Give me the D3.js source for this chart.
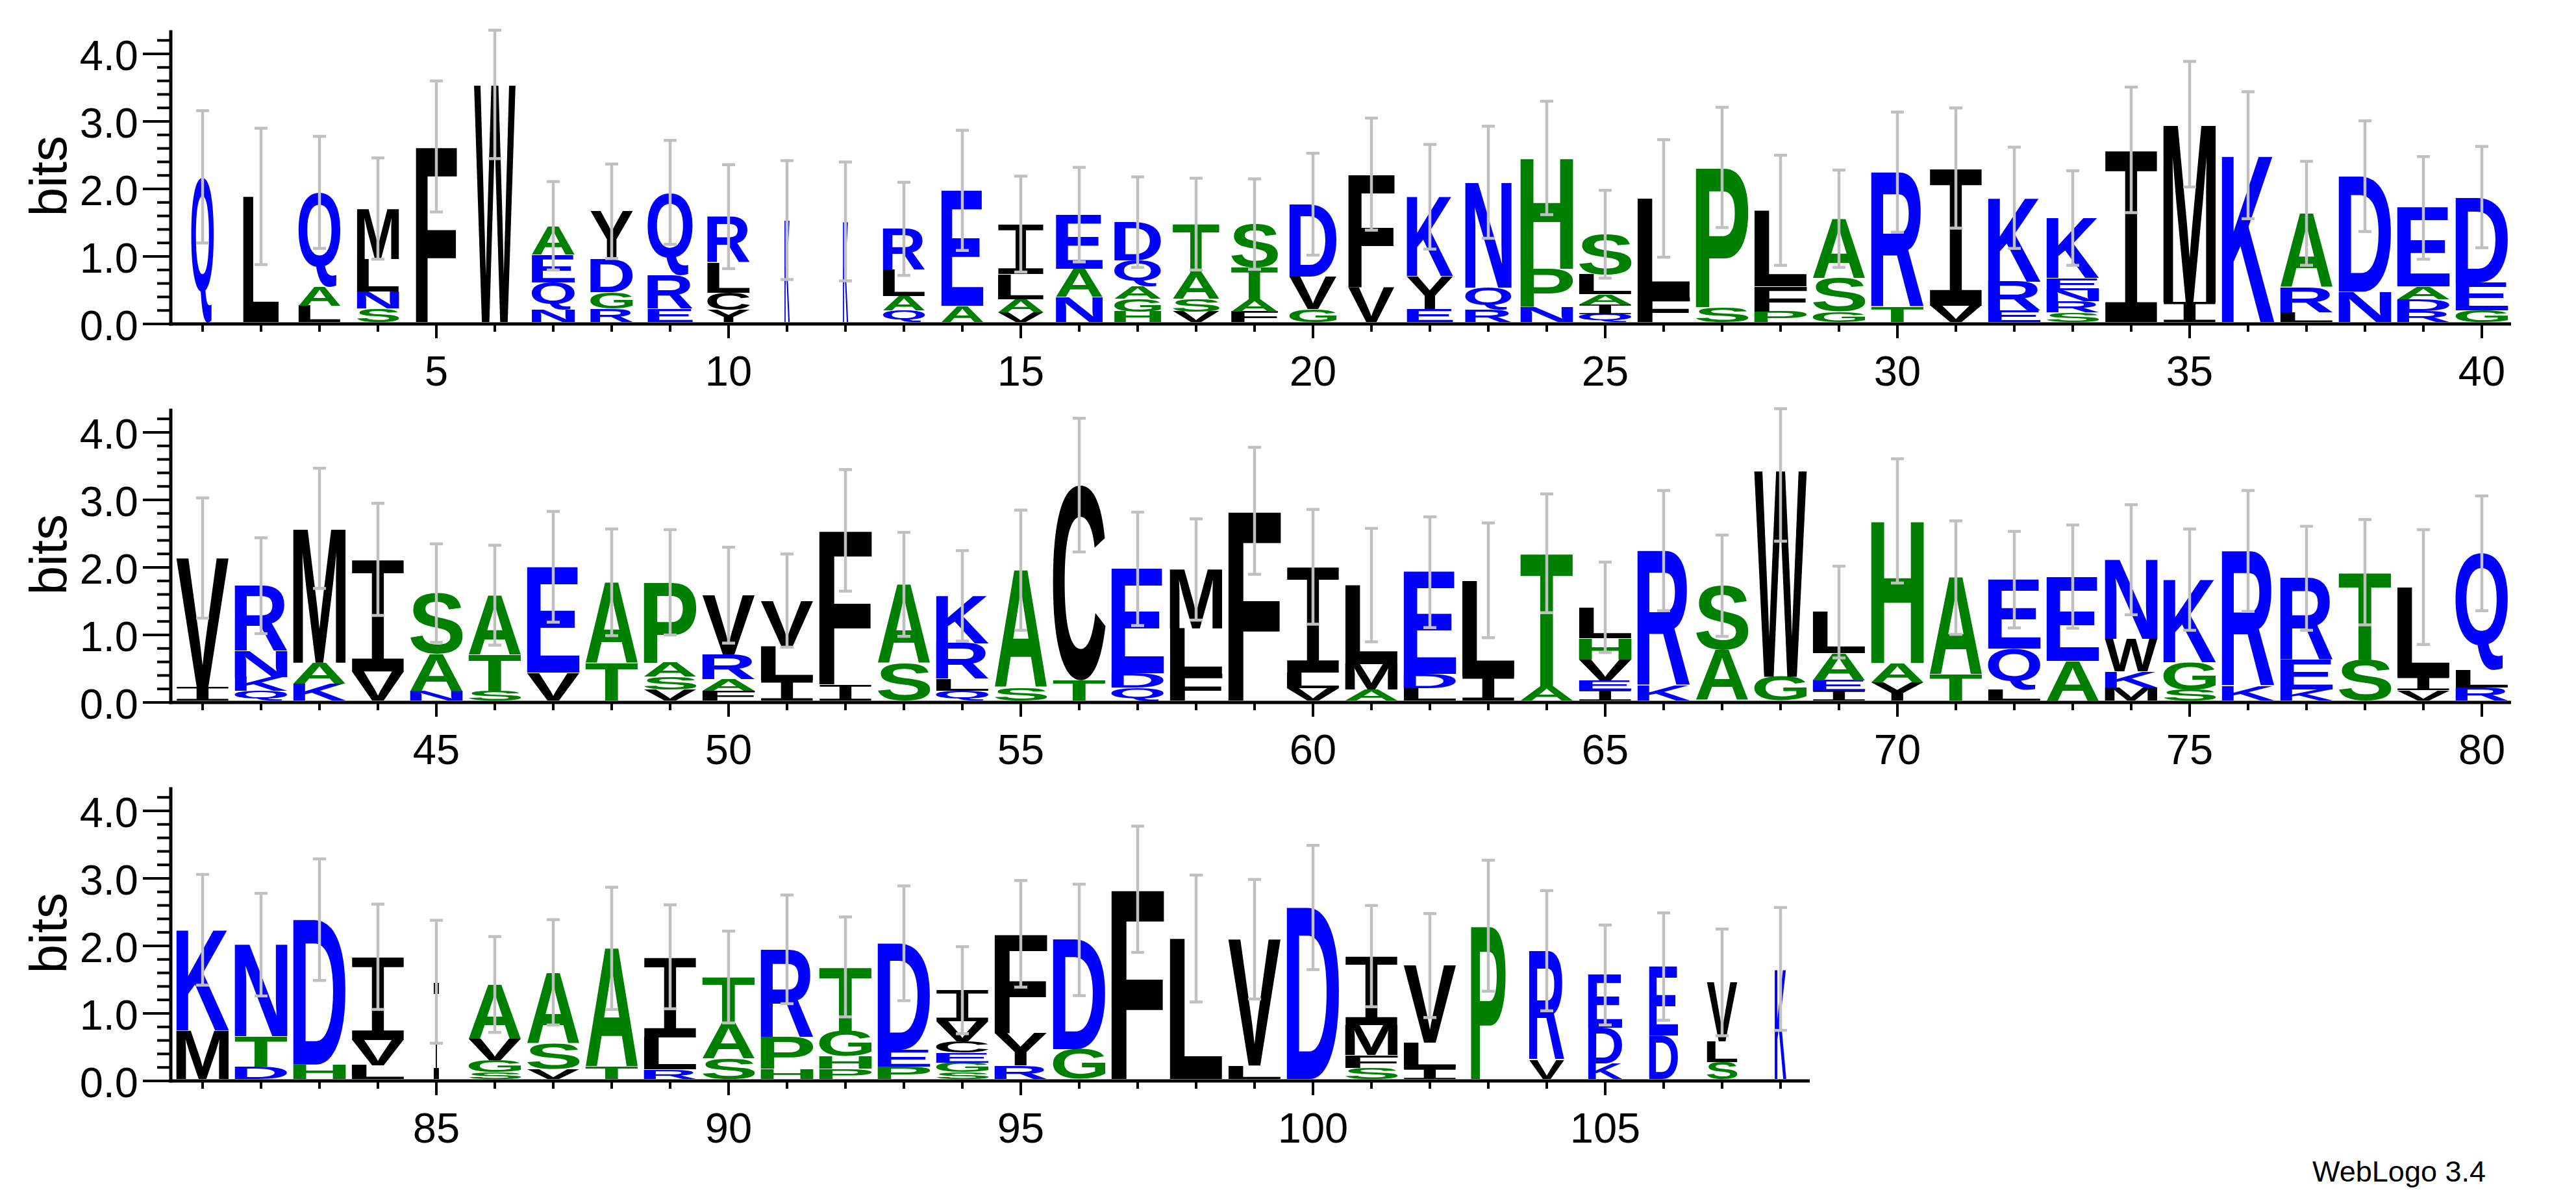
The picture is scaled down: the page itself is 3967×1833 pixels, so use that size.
<!DOCTYPE html>
<html><head><meta charset="utf-8">
<script src="https://cdn.jsdelivr.net/npm/d3@7"></script>
<style>html,body{margin:0;padding:0;background:#fff;}svg{display:block}</style>
</head><body>
<svg id="chart" width="3967" height="1833"></svg>
<script>
// ---- DATA ----
const stackLetters = ["Q","L","LAQ","SNLM","F","W","NQEA","RGDY","ERQ","YCLR",
"K","K","QALR","AE","VALI","NAE","HGAQD","VSAT","FATS","GVD",
"VF","EYK","RQN","NPH","QIALS","FL","SP","PFL","GSA","TR",
"VI","ERK","SRNEK","I","IM","K","LRA","ND","RDAE","GED",
"IV","QKNR","KAM","VI","NAS","STA","VE","TA","VSAP","FARV",
"ILV","IF","SA","QLRK","SA","TC","QDE","FLM","F","VLI",
"AML","LDE","IL","AT","IEVHL","KR","AS","GW","IEAL","YAH",
"TA","LQE","AE","MKWN","SGK","KR","KER","ST","VIL","RLQ",
"MK","DTN","HD","LVI","I","SGVA","VSA","TA","RLI","SAT",
"HPR","PHGT","PED","SGECVI","RYF","GD","F","L","LV","D",
"SFMI","ILV","P","VR","KDE","DE","SLV","K"];
const stackHeights = [
[2.15],[1.86],[0.24,0.28,1.40],[0.20,0.25,0.48,0.75],[2.60],[3.51],[0.19,0.40,0.41,0.425],[0.20,0.24,0.49,0.71],[0.20,0.50,1.22],[0.18,0.25,0.445,0.685],
[1.51],[1.49],[0.17,0.21,0.39,0.61],[0.24,1.71],[0.145,0.195,0.37,0.74],[0.37,0.42,0.80],[0.155,0.185,0.19,0.38,0.57],[0.155,0.185,0.38,0.73],[0.155,0.185,0.47,0.64],[0.19,0.48,1.075],
[0.515,1.675],[0.195,0.485,1.175],[0.19,0.32,1.56],[0.22,0.57,1.64],[0.12,0.14,0.15,0.29,0.60],[0.37,1.46],[0.22,2.07],[0.155,0.375,1.125],[0.155,0.495,0.88],[0.22,2.00],
[0.24,2.04],[0.17,0.43,1.24],[0.14,0.165,0.17,0.175,0.89],[2.55],[0.29,2.64],[2.47],[0.145,0.37,1.095],[0.45,1.71],[0.165,0.175,0.185,1.165],[0.17,0.42,1.26],
[0.195,1.915],[0.145,0.205,0.385,0.965],[0.25,0.31,1.99],[0.43,1.66],[0.145,0.545,0.90],[0.145,0.535,0.88],[0.41,1.57],[0.56,1.19],[0.16,0.19,0.21,1.19],[0.145,0.17,0.365,0.88],
[0.30,0.51,0.67],[0.24,2.28],[0.55,1.17],[0.145,0.175,0.53,0.70],[0.195,1.735],[0.30,2.89],[0.195,0.205,1.55],[0.39,0.675,0.875],[2.81],[0.18,0.23,1.57],
[0.16,0.38,1.17],[0.18,0.21,1.51],[0.37,1.41],[0.205,1.975],[0.15,0.15,0.31,0.31,0.46],[0.22,2.00],[0.745,0.955],[0.35,3.05],[0.145,0.155,0.40,0.61],[0.265,0.29,2.105],
[0.38,1.44],[0.16,0.61,1.02],[0.585,1.25],[0.195,0.24,0.475,1.175],[0.16,0.405,1.225],[0.215,2.00],[0.16,0.44,1.21],[0.61,1.29],[0.15,0.20,1.33],[0.195,0.255,1.73],
[0.72,1.49],[0.18,0.45,1.36],[0.215,2.145],[0.205,0.375,1.23],[1.44],[0.10,0.175,0.32,0.805],[0.15,0.385,1.045],[0.18,1.755],[0.14,0.48,1.19],[0.30,0.535,0.675],
[0.15,0.47,1.30],[0.15,0.19,0.375,0.945],[0.18,0.25,1.58],[0.10,0.145,0.15,0.16,0.30,0.46],[0.20,0.48,1.47],[0.44,1.62],[2.81],[2.08],[0.20,1.87],[2.54],
[0.165,0.19,0.445,1.02],[0.15,0.385,1.145],[2.27],[0.285,1.615],[0.23,0.525,0.785],[0.645,1.02],[0.25,0.31,0.87],[1.63]];
const errorHalf = [0.98,1.01,0.83,0.75,0.97,1.09,0.655,0.70,0.77,0.77,
0.88,0.88,0.69,0.89,0.71,0.70,0.67,0.68,0.67,0.755,
0.83,0.775,0.83,0.84,0.65,0.87,0.89,0.815,0.72,0.89,
0.89,0.75,0.70,0.93,0.93,0.94,0.77,0.82,0.76,0.75,
0.89,0.71,0.89,0.83,0.73,0.74,0.82,0.79,0.78,0.71,
0.69,0.90,0.77,0.67,0.89,0.99,0.84,0.75,0.94,0.85,
0.84,0.82,0.85,0.88,0.67,0.89,0.75,1.04,0.68,0.92,
0.84,0.715,0.765,0.815,0.75,0.895,0.77,0.78,0.85,0.85,
0.82,0.76,0.90,0.78,0.91,0.71,0.78,0.905,0.77,0.68,
0.805,0.74,0.85,0.645,0.79,0.825,0.935,0.94,0.885,0.92,
0.75,0.77,0.97,0.89,0.74,0.795,0.79,0.91];
const stackWidth = [0.43,0.68,0.80,0.80,0.78,0.79,0.82,0.81,0.86,0.81,
0.10,0.10,0.80,0.80,0.87,0.89,0.89,0.89,0.89,0.90,
0.88,0.88,0.88,1,1,1,1,1,1,1,
1,1,1,1,1,1,1,1,1,1,
1,1,1,1,1,1,1,1,1,1, 1,1,1,1,1,1,1,1,1,1, 1,1,1,1,1,1,1,1,1,1, 1,1,1,1,1,1,1,1,1,1,
1,1,1,1,0.10,1,1,1,1,1, 1,1,1,1,1,1,1,1,1,1,
1,1,0.66,0.67,0.65,0.55,0.58,0.22];
const rowFirst = [1, 41, 81];
const rowLast = [40, 80, 108];
const yTickValues = [0, 1, 2, 3, 4];
const yTickLabels = ["0.0", "1.0", "2.0", "3.0", "4.0"];
const yMinorTicks = d3.range(0, 4.21, 0.2);
const xTickLabelEvery = 5;
const letterColors = {blue: "RKDENQ", green: "SGHTAP", black: "YVMCLFIW"};
const colorHex = {blue: "#0000ff", green: "#008000", black: "#000000"};

// ---- LAYOUT ----
const svg = d3.select("#chart");
svg.append("rect").attr("width", 3967).attr("height", 1833).attr("fill", "#fff");
const rowBase = [496, 1079, 1662];
const pxPerBit = 104;
const maxBits = Math.log2(20);
const posWidth = 90, fullLetterW = 81;
const xLeft = 267, axisX = 263;
const FS = 200;
const canvas = document.createElement("canvas");
const ctx = canvas.getContext("2d");
function fontFor(ch) { return ch === "I" ? '"Liberation Mono"' : '"Liberation Sans"'; }
function weightFor(ch) { return ch === "I" ? "normal" : "bold"; }
const metricCache = {};
function metric(ch) {
  if (!metricCache[ch]) {
    ctx.font = `${weightFor(ch)} ${FS}px ${fontFor(ch)}`;
    const t = ctx.measureText(ch);
    metricCache[ch] = {l: t.actualBoundingBoxLeft, r: t.actualBoundingBoxRight, a: t.actualBoundingBoxAscent, d: t.actualBoundingBoxDescent};
  }
  return metricCache[ch];
}
function colorOf(ch) {
  for (const k in letterColors) if (letterColors[k].includes(ch)) return colorHex[k];
  return "#000";
}

rowFirst.forEach((first, r) => {
  const last = rowLast[r];
  const n = last - first + 1;
  const base = rowBase[r];
  const x = d3.scaleLinear().domain([0.5, 40.5]).range([xLeft, xLeft + 40 * posWidth]);
  const y = d3.scaleLinear().domain([0, maxBits]).range([base, base - maxBits * pxPerBit]);
  const g = svg.append("g");

  for (let p = first; p <= last; p++) {
    const i = p - 1;
    const letters = stackLetters[i], hs = stackHeights[i];
    const cx = x(p - first + 1);
    const bw = fullLetterW * stackWidth[i];
    let cum = 0;
    for (let k = 0; k < letters.length; k++) {
      const ch = letters[k], h = hs[k];
      const y0 = y(cum), y1 = y(cum + h);
      cum += h;
      const m = metric(ch);
      const w = m.l + m.r, hh = m.a + m.d;
      const bh = y0 - y1;
      g.append("text")
        .attr("x", 0).attr("y", 0)
        .attr("font-family", fontFor(ch)).attr("font-weight", weightFor(ch)).attr("font-size", FS)
        .attr("fill", colorOf(ch))
        .attr("transform", `translate(${cx - bw / 2},${y1}) scale(${bw / w},${bh / hh}) translate(${m.l},${m.a})`)
        .text(ch);
    }
  }
  for (let p = first; p <= last; p++) {
    const i = p - 1;
    const total = d3.sum(stackHeights[i]);
    const e = errorHalf[i];
    const cx = x(p - first + 1);
    const ya = y(Math.max(0, total - e)), yb = y(Math.min(maxBits, total + e));
    const eg = g.append("g").attr("stroke", "#c0c0c0").attr("stroke-width", 4.5);
    eg.append("line").attr("x1", cx).attr("x2", cx).attr("y1", ya).attr("y2", yb);
    eg.append("line").attr("x1", cx - 10).attr("x2", cx + 10).attr("y1", ya).attr("y2", ya);
    eg.append("line").attr("x1", cx - 10).attr("x2", cx + 10).attr("y1", yb).attr("y2", yb);
  }
  const xEnd = x(n + 0.5);
  g.append("line").attr("x1", axisX - 2.5).attr("x2", xEnd).attr("y1", base + 3).attr("y2", base + 3)
    .attr("stroke", "#000").attr("stroke-width", 5);
  for (let p = first; p <= last; p++) {
    const cx = x(p - first + 1);
    const major = p % xTickLabelEvery === 0;
    g.append("line").attr("x1", cx).attr("x2", cx).attr("y1", base + 5).attr("y2", base + (major ? 25 : 15))
      .attr("stroke", "#000").attr("stroke-width", 4);
    if (major) {
      g.append("text").attr("x", cx).attr("y", base + 98).attr("text-anchor", "middle")
        .attr("font-family", '"Liberation Sans", Arial, sans-serif').attr("font-size", 65).attr("fill", "#000")
        .text(String(p));
    }
  }
  g.append("line").attr("x1", axisX).attr("x2", axisX).attr("y1", y(maxBits)).attr("y2", base + 5.5)
    .attr("stroke", "#000").attr("stroke-width", 5);
  yMinorTicks.forEach(v => {
    g.append("line").attr("x1", axisX - 21).attr("x2", axisX).attr("y1", y(v) + 3).attr("y2", y(v) + 3)
      .attr("stroke", "#000").attr("stroke-width", 4);
  });
  yTickValues.forEach((v, k) => {
    g.append("line").attr("x1", axisX - 43).attr("x2", axisX).attr("y1", y(v) + 3).attr("y2", y(v) + 3)
      .attr("stroke", "#000").attr("stroke-width", 4);
    g.append("text").attr("x", 213).attr("y", y(v) + 3 + 25).attr("text-anchor", "end")
      .attr("font-family", '"Liberation Sans", Arial, sans-serif').attr("font-size", 65).attr("fill", "#000")
      .text(yTickLabels[k]);
  });
  g.append("text").attr("transform", `translate(102,${base - maxBits * pxPerBit / 2}) rotate(-90)`)
    .attr("text-anchor", "middle").attr("font-family", '"Liberation Sans", Arial, sans-serif')
    .attr("font-size", 80).attr("fill", "#000").text("bits");
});

svg.append("text").attr("x", 3828).attr("y", 1820).attr("text-anchor", "end")
  .attr("font-family", '"Liberation Sans", Arial, sans-serif').attr("font-size", 45).attr("fill", "#000")
  .text("WebLogo 3.4");
</script>
</body></html>
